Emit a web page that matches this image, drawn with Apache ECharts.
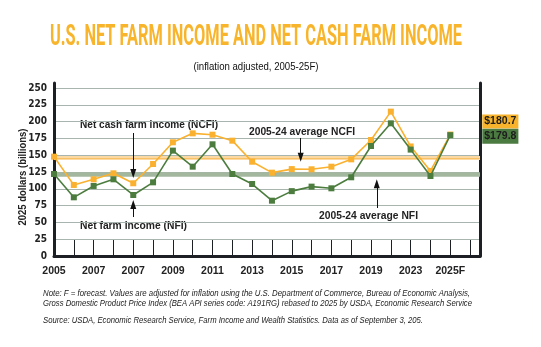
<!DOCTYPE html>
<html>
<head>
<meta charset="utf-8">
<script src="https://cdn.jsdelivr.net/npm/echarts@6/dist/echarts.min.js"></script>
<style>
html,body{margin:0;padding:0;background:#fff;}
#chart{width:541px;height:347px;}
</style>
</head>
<body>
<div id="chart"></div>
<script>
// ---- data ----
const years = ['2005','2006','2007','2008','2009','2010','2011','2012','2013','2014','2015','2016','2017','2018','2019','2020','2021','2022','2023','2024','2025F'];
const ncfi = [147.8, 105.7, 114.1, 123.0, 108.2, 136.9, 169.2, 182.5, 180.5, 171.6, 140.3, 124.0, 129.3, 129.0, 132.9, 143.8, 172.6, 214.8, 163.0, 126.5, 180.7];
const nfi  = [122.0, 87.3, 104.2, 114.1, 90.8, 109.6, 156.8, 132.9, 166.2, 122.0, 107.1, 82.3, 96.5, 103.2, 100.7, 117.1, 163.7, 197.4, 158.3, 119.0, 179.8];
const avgNCFI = 145.5;
const avgNFI = 121;
const xTickLabels = ['2005','2007','2007','2009','2011','2013','2015','2017','2019','2023','2025F'];
const yTicks = [0, 25, 50, 75, 100, 125, 150, 175, 200, 225, 250];

// ---- styles ----
const ORANGE = '#FAB12F';
const GREEN = '#4C7D3F';
const DARK = '#1c1f24';
const GRID = '#A8B5AE';

const ctx = document.createElement('canvas').getContext('2d');
function measure(text, font){ ctx.font = font; return ctx.measureText(text).width; }
function fitText(text, x, y, width, font, opts){
  opts = opts || {};
  const s = width / measure(text, font);
  return Object.assign({
    type: 'text', x: x, y: y, scaleX: s, silent: true,
    style: { text: text, font: font, fill: opts.fill || '#222', align: opts.align || 'left', verticalAlign: 'middle' }
  }, opts.extra || {});
}

const chart = echarts.init(document.getElementById('chart'), null, {renderer: 'canvas'});

const labelFont = "'Liberation Sans Narrow', 'DejaVu Sans Condensed', 'Liberation Sans', sans-serif";
const annFont = "bold 10.5px 'Liberation Sans', Arial, sans-serif";
const noteFont = "italic 9px 'Liberation Sans', Arial, sans-serif";

const graphics = [
  fitText('U.S. NET FARM INCOME AND NET CASH FARM INCOME', 256, 37.5, 412, "bold 30px Roboto, sans-serif", {fill: '#F8B42B', align: 'center'}),
  fitText('(inflation adjusted, 2005-25F)', 256, 67, 125, "11px 'Liberation Sans', Arial, sans-serif", {align: 'center', fill: '#111'}),
  fitText('2025 dollars (billions)', 23, 177, 97, "bold 11.5px 'Liberation Sans', Arial, sans-serif", {align: 'center', extra: {rotation: Math.PI / 2}}),
  fitText('Net cash farm income (NCFI)', 80, 125, 138, annFont),
  fitText('Net farm income (NFI)', 80, 225.7, 107, annFont),
  fitText('2005-24 average NCFI', 249, 131.7, 106, annFont),
  fitText('2005-24 average NFI', 319, 216, 99, annFont),
  fitText('Note: F = forecast. Values are adjusted for inflation using the U.S. Department of Commerce, Bureau of Economic Analysis,', 43, 293.3, 427, noteFont),
  fitText('Gross Domestic Product Price Index (BEA API series code: A191RG) rebased to 2025 by USDA, Economic Research Service', 43, 303.3, 429, noteFont),
  fitText('Source: USDA, Economic Research Service, Farm Income and Wealth Statistics. Data as of September 3, 205.', 43, 320, 380, noteFont)
];

function arrow(x, y0, y1){
  return [{coord: [x, y0]}, {coord: [x, y1]}];
}

const option = {
  animation: false,
  backgroundColor: '#fff',
  grid: {left: 54, right: 61, top: 83, bottom: 91, containLabel: false},
  xAxis: {
    type: 'value', min: 0, max: 21.5, interval: 1,
    offset: 3,
    axisLine: {show: true, lineStyle: {color: DARK, width: 3}},
    axisTick: {show: true, inside: true, length: 16, lineStyle: {color: DARK, width: 1}},
    splitLine: {show: false},
    axisLabel: {
      show: true, margin: 7, color: '#222', fontWeight: 'bold', fontSize: 10.5,
      fontFamily: "'Liberation Sans', Arial, sans-serif",
      showMaxLabel: false,
      formatter: function(v){
        if (Math.abs(v - Math.round(v)) < 1e-6 && Math.round(v) % 2 === 0 && v <= 20) return xTickLabels[Math.round(v) / 2];
        return '';
      }
    }
  },
  yAxis: [
    {
      type: 'value', min: 0, max: 257.4, interval: 25, position: 'left',
      axisLine: {show: true, lineStyle: {color: DARK, width: 3}},
      axisTick: {show: false},
      splitLine: {show: true, showMaxLine: false, lineStyle: {color: GRID, width: 1}},
      axisLabel: {
        show: true, margin: 7, color: '#222', fontWeight: 'bold', fontSize: 10, fontFamily: labelFont,
        showMaxLabel: false,
        formatter: function(v){ return yTicks.indexOf(v) >= 0 ? String(v) : ''; }
      }
    },
    {
      type: 'value', min: 0, max: 257.4, interval: 25, position: 'right',
      axisLine: {show: true, lineStyle: {color: DARK, width: 3}},
      axisTick: {show: false}, axisLabel: {show: false}, splitLine: {show: false}
    }
  ],
  series: [
    {
      type: 'line', data: [], z: 1, silent: true,
      markLine: {
        silent: true, symbol: 'none', animation: false, z: 1,
        label: {show: false},
        data: [
          {yAxis: avgNCFI, lineStyle: {color: '#FCD9A2', width: 4, type: 'solid'}},
          {yAxis: avgNCFI, lineStyle: {color: '#F8C166', width: 1, type: 'solid'}},
          {yAxis: avgNFI, lineStyle: {color: '#A3B79F', width: 4.5, type: 'solid'}}
        ]
      }
    },
    {
      name: 'Net cash farm income (NCFI)',
      type: 'line', z: 3,
      data: ncfi.map((v, i) => [i, v]),
      symbol: 'rect', symbolSize: 6,
      lineStyle: {color: ORANGE, width: 1.6},
      itemStyle: {color: ORANGE},
      endLabel: {
        show: true, offset: [24, -13],
        formatter: p => '$' + p.value[1].toFixed(1),
        color: '#1d1d1d', fontWeight: 'bold', fontSize: 10.5,
        fontFamily: "'Liberation Sans', Arial, sans-serif",
        backgroundColor: '#F7B32B', padding: [2, 2, 1, 2]
      }
    },
    {
      name: 'Net farm income (NFI)',
      type: 'line', z: 4,
      data: nfi.map((v, i) => [i, v]),
      symbol: 'rect', symbolSize: 6,
      lineStyle: {color: GREEN, width: 1.6},
      itemStyle: {color: GREEN},
      endLabel: {
        show: true, offset: [24, 1],
        formatter: p => '$' + p.value[1].toFixed(1),
        color: '#1d1d1d', fontWeight: 'bold', fontSize: 10.5,
        fontFamily: "'Liberation Sans', Arial, sans-serif",
        backgroundColor: '#4B7B40', padding: [2, 2, 2, 2]
      }
    },
    {
      type: 'line', data: [], z: 5, silent: true,
      markLine: {
        silent: true, symbol: ['none', 'triangle'], symbolSize: [6, 9], animation: false, z: 6,
        label: {show: false},
        lineStyle: {color: '#111', width: 1, type: 'solid'},
        data: [
          arrow(4, 183, 122.8),
          arrow(4, 58, 76.6),
          arrow(12.45, 175.6, 147),
          arrow(16.29, 71.4, 107.4)
        ]
      }
    }
  ],
  graphic: graphics
};
chart.setOption(option);
</script>
</body>
</html>
